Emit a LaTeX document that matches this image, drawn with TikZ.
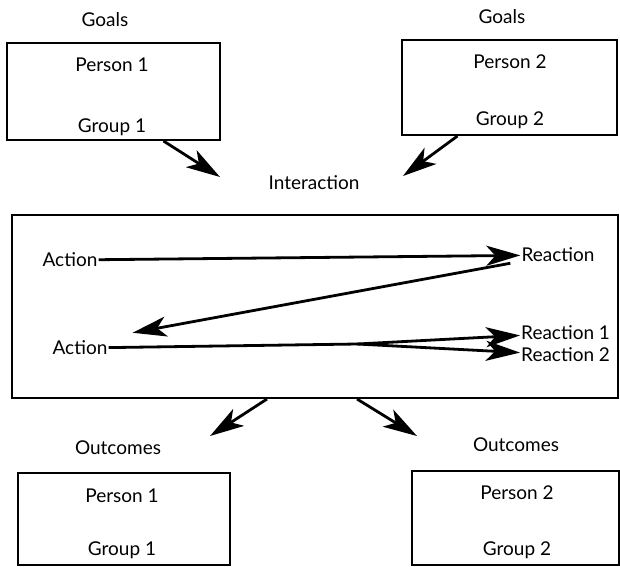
\documentclass[tikz,border=0pt]{standalone}
\usepackage{fontspec}
\setmainfont{Lato}
\usetikzlibrary{arrows.meta, positioning}

\begin{document}
\begin{tikzpicture}[x=1pt, y=-1pt]
    \tikzstyle{txt} = [inner sep=1pt, font=\fontsize{19}{23}\selectfont]
    \tikzstyle{box} = [rectangle, draw=black, line width=2pt]
    \tikzstyle{arrow} = [line width=2.8pt, -{Stealth[length=34pt, width=20pt, inset=9pt]}]

    \useasboundingbox (0,0) rectangle (620,566);

    % goals
    \node (goalbox1) [box, minimum width=213pt, minimum height=97pt] at (113.5,91.5) {};
    \node (goalbox2) [box, minimum width=215pt, minimum height=95pt] at (509.5,87.5) {};
    \node (goals1) [txt] at (105,20) {Goals};
    \node (goals2) [txt] at (502,17) {Goals};
    \node (person1) [txt] at (112,65) {Person 1};
    \node (group1) [txt] at (112,127) {Group 1};
    \node (person2) [txt] at (510,62) {Person 2};
    \node (group2) [txt] at (510,120) {Group 2};

    % interaction
    \node (inter) [txt] at (314,183) {Interaction};
    \node (interbox) [box, minimum width=606pt, minimum height=183pt] at (315,306.5) {};
    \node (act1) [txt] at (70,260) {Action};
    \node (react) [txt] at (558,255) {Reaction};
    \node (act2) [txt] at (80,348) {Action};
    \node (react1) [txt, anchor=west] at (520,333) {Reaction 1};
    \node (react2) [txt, anchor=west] at (520,355) {Reaction 2};

    % outcomes
    \node (outc1) [txt] at (118,448) {Outcomes};
    \node (outc2) [txt] at (516,445) {Outcomes};
    \node (outbox1) [box, minimum width=212pt, minimum height=92pt] at (124,519) {};
    \node (outbox2) [box, minimum width=207pt, minimum height=94pt] at (515.5,518) {};
    \node (operson1) [txt] at (122,496) {Person 1};
    \node (ogroup1) [txt] at (122,550) {Group 1};
    \node (operson2) [txt] at (517,493) {Person 2};
    \node (ogroup2) [txt] at (517,550) {Group 2};

    \coordinate (in1) at (220,177);
    \coordinate (in2) at (403,176);
    \coordinate (split) at (357,344);
    \coordinate (out1) at (210,436);
    \coordinate (out2) at (417,436);

    \draw [arrow] ([xshift=50pt]goalbox1.south) -- (in1);
    \draw [arrow] ([xshift=-52pt]goalbox2.south) -- (in2);
    \draw [arrow] (act1) -- (react);
    \draw [arrow] ([xshift=-10pt]react.south west) -- ([xshift=24pt,yshift=7pt]act2.north east);
    \draw [arrow] (act2) -- (split) -- (react1);
    \draw [arrow] (split) -- (react2);
    \draw [arrow] ([xshift=-48pt]interbox.south) -- (out1);
    \draw [arrow] ([xshift=42pt]interbox.south) -- (out2);
\end{tikzpicture}
\end{document}
